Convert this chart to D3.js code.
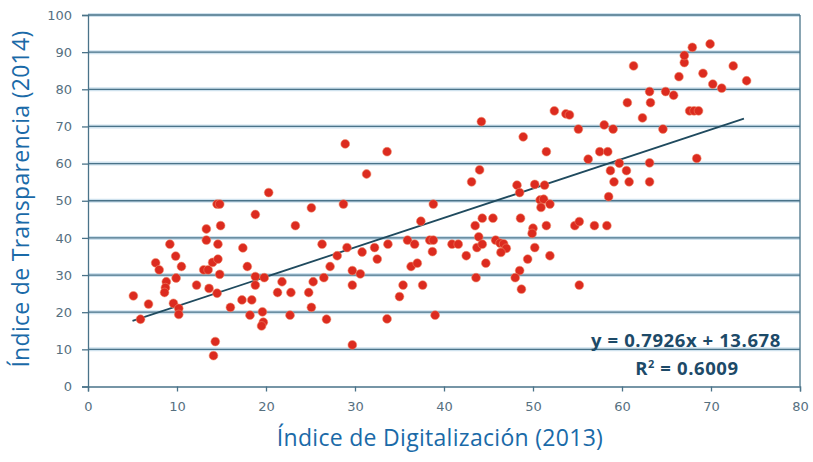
<!DOCTYPE html>
<html>
<head>
<meta charset="utf-8">
<script src="https://cdn.jsdelivr.net/npm/d3@7"></script>
<style>
  body { margin: 0; background: #fff; }
  .tick text { font-family: "DejaVu Sans", sans-serif; font-size: 13px; fill: #56707f; }
</style>
</head>
<body>
<div id="chart"></div>
<script>
// data: x = digitalizacion 2013, y = transparencia 2014
var digit = [5.1,5.9,6.8,7.6,8.0,9.2,9.85,10.5,9.9,8.8,8.7,8.6,9.6,10.2,10.2,12.2,13.3,13.3,13.0,13.5,
  14.0,14.6,14.6,14.9,14.5,14.8,14.8,13.6,14.5,14.3,14.1,16.0,17.4,17.9,17.3,18.4,18.2,19.6,19.7,19.5,
  18.8,20.3,18.8,18.8,19.8,21.8,21.3,22.8,22.7,23.3,25.1,24.8,25.3,25.1,26.3,26.5,26.8,27.2,28.0,28.7,
  28.9,29.1,29.7,29.7,29.7,30.6,30.8,31.3,32.2,32.5,33.6,33.7,33.6,35.0,35.4,35.9,36.7,36.3,37.0,37.4,
  37.6,38.4,38.8,38.7,38.8,39.0,40.9,41.6,42.5,43.1,44.0,44.2,43.5,44.3,45.5,43.9,43.7,44.3,44.7,43.6,
  45.8,46.3,46.7,47.0,46.4,48.2,48.5,48.9,48.6,48.5,48.0,48.7,49.4,51.5,56.2,57.5,58.4,59.7,58.7,60.5,
  59.1,60.8,58.5,50.2,51.3,50.8,51.2,51.9,50.9,51.5,50.0,49.9,54.7,55.2,56.9,58.3,50.2,51.9,55.2,52.4,
  53.7,54.1,55.1,58.0,59.0,60.6,61.3,62.3,63.1,63.2,64.6,64.9,65.8,66.4,67.0,67.0,67.9,69.9,69.1,70.2,
  71.2,72.5,74.0,67.6,68.1,68.6,68.4,63.1,63.1];
var transp = [24.4,18.1,22.2,33.3,31.4,38.3,35.1,32.3,29.2,28.2,26.6,25.3,22.4,21.0,19.4,27.3,42.4,39.4,31.4,31.4,
  33.4,34.3,38.3,43.3,49.1,49.1,30.2,26.4,25.1,12.1,8.3,21.3,37.3,32.3,23.3,23.3,19.2,20.1,17.3,16.3,
  46.3,52.2,29.6,27.3,29.3,28.2,25.3,25.3,19.2,43.3,48.1,25.3,28.2,21.3,38.3,29.3,18.1,32.3,35.2,49.1,
  65.3,37.4,31.2,27.3,11.2,30.3,36.2,57.2,37.4,34.3,63.2,38.3,18.2,24.2,27.3,39.4,38.3,32.3,33.2,44.5,
  27.3,39.4,39.4,36.3,49.1,19.2,38.3,38.3,35.2,55.1,58.3,71.3,43.3,45.3,45.3,40.3,37.4,38.3,33.2,29.3,
  39.4,38.6,38.4,37.2,36.1,54.2,52.2,67.2,45.3,31.2,29.3,26.2,34.3,63.2,61.2,63.2,63.2,60.1,58.1,58.1,
  55.1,55.1,51.1,54.4,54.2,50.2,50.4,49.1,48.2,43.3,42.6,41.2,43.3,44.4,43.3,43.3,37.4,35.2,27.3,74.2,
  73.4,73.1,69.3,70.4,69.3,76.4,86.3,72.3,79.4,76.4,69.3,79.4,78.4,83.4,87.2,89.1,91.3,92.2,84.3,81.4,
  80.3,86.3,82.3,74.2,74.2,74.2,61.4,60.2,55.1];

var xTicks = [0,10,20,30,40,50,60,70,80];
var yTicks = [0,10,20,30,40,50,60,70,80,90,100];
var slope = 0.7926, intercept = 13.678;
var trendX = [5.0, 73.7];
var eqText = "y = 0.7926x + 13.678";
var r2Text = "0.6009";

var W = 813, H = 462;
var margin = {left: 88, top: 15, right: 13, bottom: 75.5};
var w = W - margin.left - margin.right;
var h = H - margin.top - margin.bottom;

var svg = d3.select("#chart").append("svg")
  .attr("width", W)
  .attr("height", H);

var g = svg.append("g")
  .attr("transform", "translate(" + margin.left + "," + margin.top + ")");

var x = d3.scaleLinear().domain([0, 80]).range([0, w]);
var y = d3.scaleLinear().domain([0, 100]).range([h, 0]);

// gridlines, soft blue glow under a dark line
var grid = g.append("g");
grid.selectAll("line.glow")
  .data(yTicks.slice(1))
  .enter().append("line")
  .attr("class", "glow")
  .attr("x1", 0).attr("x2", w)
  .attr("y1", function(d) { return y(d); })
  .attr("y2", function(d) { return y(d); })
  .style("stroke", "#cfe2ee")
  .style("stroke-width", 4);
grid.selectAll("line.main")
  .data(yTicks.slice(1))
  .enter().append("line")
  .attr("class", "main")
  .attr("x1", 0).attr("x2", w)
  .attr("y1", function(d) { return y(d); })
  .attr("y2", function(d) { return y(d); })
  .style("stroke", "#4a7389")
  .style("stroke-width", 1.3);

// right border
g.append("line")
  .attr("x1", w).attr("x2", w)
  .attr("y1", 0).attr("y2", h)
  .style("stroke", "#4a7389")
  .style("stroke-width", 1.3);

var xAxis = g.append("g")
  .attr("transform", "translate(0," + h + ")")
  .call(d3.axisBottom(x).tickValues(xTicks).tickSize(5).tickPadding(10));
var yAxis = g.append("g")
  .call(d3.axisLeft(y).tickValues(yTicks).tickSize(6).tickPadding(10));

g.selectAll(".domain, .tick line")
  .style("stroke", "#4a7389")
  .style("stroke-width", 1.3);

// trend line
g.append("line")
  .attr("x1", x(trendX[0]))
  .attr("y1", y(slope * trendX[0] + intercept))
  .attr("x2", x(trendX[1]))
  .attr("y2", y(slope * trendX[1] + intercept))
  .style("stroke", "#1f4a5e")
  .style("stroke-width", 1.8);

// points
g.selectAll("circle")
  .data(digit.map(function(d, i) { return [d, transp[i]]; }))
  .enter().append("circle")
  .attr("cx", function(d) { return x(d[0]); })
  .attr("cy", function(d) { return y(d[1]); })
  .attr("r", 4.4)
  .style("fill", "#dc2b1f")
  .style("stroke", "#f08a6a")
  .style("stroke-width", 0.8)
  .style("stroke-opacity", 0.7);

// equation
g.append("text")
  .attr("x", 598)
  .attr("y", 331.5)
  .attr("text-anchor", "middle")
  .style("font-family", "'Open Sans', sans-serif")
  .style("font-weight", "bold")
  .style("font-size", "18.5px")
  .style("letter-spacing", "0.6px")
  .style("fill", "#1d4a68")
  .text(eqText);
var r2 = g.append("text")
  .attr("x", 599)
  .attr("y", 360)
  .attr("text-anchor", "middle")
  .style("font-family", "'Open Sans', sans-serif")
  .style("font-weight", "bold")
  .style("font-size", "18.5px")
  .style("letter-spacing", "0.6px")
  .style("fill", "#1d4a68");
r2.append("tspan").text("R");
r2.append("tspan").attr("dy", -7).style("font-size", "11px").text("2");
r2.append("tspan").attr("dy", 7).text(" = " + r2Text);

// axis titles
svg.append("text")
  .attr("x", 440)
  .attr("y", 446)
  .attr("text-anchor", "middle")
  .style("font-family", "'Open Sans', sans-serif")
  .style("font-size", "23px")
  .style("letter-spacing", "0.3px")
  .style("fill", "#1a6aa8")
  .text("Índice de Digitalización (2013)");

svg.append("text")
  .attr("transform", "translate(29,199) rotate(-90)")
  .attr("text-anchor", "middle")
  .style("font-family", "'Open Sans', sans-serif")
  .style("font-size", "23px")
  .style("letter-spacing", "0.3px")
  .style("fill", "#1a6aa8")
  .text("Índice de Transparencia (2014)");
</script>
</body>
</html>
